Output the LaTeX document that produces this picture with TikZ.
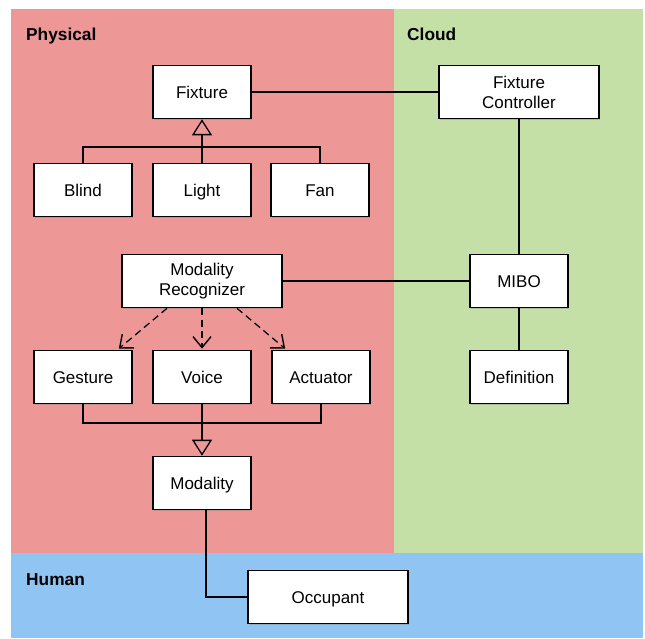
\documentclass[tikz,border=0pt]{standalone}
\usepackage{fontspec}
\setmainfont{Liberation Sans}
\usetikzlibrary{arrows.meta,shadows}
\definecolor{physred}{RGB}{238,151,151}
\definecolor{cloudgreen}{RGB}{197,224,166}
\definecolor{humanblue}{RGB}{143,196,243}
\tikzset{
  box/.style={draw=black, fill=white, line width=1.6pt, minimum width=98pt,
    minimum height=53pt, inner sep=0pt, align=center, font=\fontsize{17}{20}\selectfont,
    drop shadow={shadow xshift=1.2pt, shadow yshift=-1.2pt, opacity=0.35}},
  onerow/.style={text height=12.2pt, text depth=0pt},
  widebox/.style={box, minimum width=160pt},
  zone/.style={font=\bfseries\fontsize{17.3}{20}\selectfont, anchor=base west, inner sep=0pt},
  link/.style={line width=1.3pt},
  inherit/.style={link, -{Triangle[open, length=16pt, width=20pt, line width=1.3pt]}},
  uses/.style={link, dash pattern=on 7pt off 4.5pt, -{Straight Barb[length=11pt, width=18pt, line width=1.4pt]}}
}
\begin{document}
\begin{tikzpicture}[x=1pt, y=-1pt]
  \useasboundingbox (0,0) rectangle (645,639);
  % three zones
  \fill[physred] (11,9) rectangle (394,553);
  \fill[cloudgreen] (394,9) rectangle (643,553);
  \fill[humanblue] (11,553) rectangle (643,638);
  \node[zone] (lphys) at (26,41) {Physical};
  \node[zone] (lcloud) at (407,41) {Cloud};
  \node[zone] (lhuman) at (26,585) {Human};

  % physical layer
  \node[box, onerow] (fixture) at (202,92) {Fixture};
  \node[box, onerow] (blind) at (83,190) {Blind};
  \node[box, onerow] (light) at (202,190) {Light};
  \node[box, onerow] (fan) at (320,190) {Fan};
  \node[widebox] (recog) at (202,281) {Modality\\Recognizer};
  \node[box, onerow] (gesture) at (83,377) {Gesture};
  \node[box, onerow] (voice) at (202,377) {Voice};
  \node[box, onerow] (actuator) at (321,377) {Actuator};
  \node[box, onerow] (modality) at (202,483) {Modality};

  % cloud layer
  \node[widebox] (ctrl) at (519,92) {Fixture\\Controller};
  \node[box, onerow] (mibo) at (519,281) {MIBO};
  \node[box, onerow] (defn) at (519,377) {Definition};

  % human layer
  \node[widebox, onerow] (occ) at (328,597) {Occupant};

  % fixture hierarchy
  \coordinate (fbus) at (0,147);
  \draw[link] (blind.north) -- (blind.north |- fbus) -- (fan.north |- fbus) -- (fan.north);
  \draw[inherit] (light.north) -- (fixture.south);

  % modality hierarchy
  \coordinate (mbus) at (0,423);
  \draw[link] (gesture.south) -- (gesture.south |- mbus) -- (actuator.south |- mbus) -- (actuator.south);
  \draw[inherit] (voice.south) -- (modality.north);

  % recognizer dependencies
  \draw[uses] ([xshift=-35pt]recog.south) -- ([xshift=-14pt, yshift=1pt]gesture.north east);
  \draw[uses] (recog.south) -- ([yshift=1pt]voice.north);
  \draw[uses] ([xshift=35pt]recog.south) -- ([xshift=14pt, yshift=1pt]actuator.north west);

  % associations
  \draw[link] (fixture.east) -- (ctrl.west);
  \draw[link] (ctrl.south) -- (mibo.north);
  \draw[link] (recog.east) -- (mibo.west);
  \draw[link] (mibo.south) -- (defn.north);
  \draw[link] ([xshift=4pt]modality.south) |- (occ.west);
\end{tikzpicture}
\end{document}
